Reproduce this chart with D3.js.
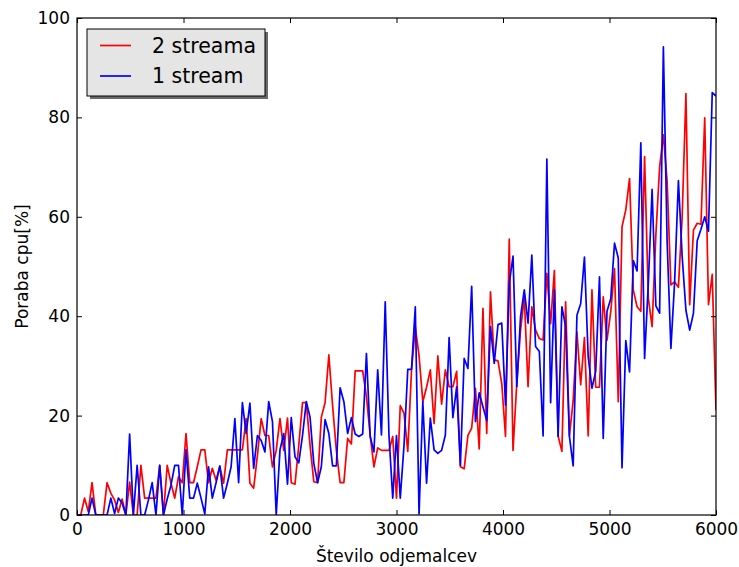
<!DOCTYPE html>
<html>
<head>
<meta charset="utf-8" />
<title>Poraba cpu</title>
<script src="https://d3js.org/d3.v7.min.js"></script>
<style>
body { margin:0; background:white; }
text { font-family: "DejaVu Sans", sans-serif; fill: black; }
.tick line { stroke: black; }
</style>
</head>
<body>
<div id="chart"></div>
<script>

// cpu usage [%], "2 streama" (red) and "1 stream" (blue), one value per sample
var red_values = [
 0, 0, 3.4, 0.7, 6.5, 0, 0, 0, 6.5, 4.4,
 3, 0.5, 3.2, 0, 6.6, 0, 0, 10, 3.4, 3.4,
 3.4, 3.4, 10, 0, 10, 6.4, 3.4, 7.7, 6.5, 16.4,
 6.5, 6.5, 9.7, 13.1, 13.1, 6.5, 9.4, 7, 9.7, 6.4,
 13.1, 13.1, 13.1, 13.1, 13.1, 19.4, 6.4, 5.4, 12, 19.4,
 16, 16, 9.7, 13, 19.4, 13, 19.5, 6.5, 6.2, 14,
 22.6, 22.6, 14, 6.7, 6.5, 19.7, 22.6, 32.2, 22, 13,
 6.5, 6.5, 15.4, 14.3, 29, 29, 29, 23.8, 16, 9.7,
 13.5, 13, 13, 13, 15.8, 3.4, 22, 20.5, 12.8, 29.2,
 37.8, 32, 22.8, 25.7, 29.2, 18.4, 32, 22.3, 29.2, 25.8,
 25.8, 28.9, 9.7, 9.3, 16, 17.5, 25.5, 13.3, 41.6, 16.4,
 44.9, 31.2, 31, 26.5, 15.8, 55.5, 13, 26.5, 37.2, 43.9,
 25.8, 41.9, 37.2, 35.5, 35.2, 48.6, 38.5, 49.2, 15.9, 12.8,
 42.9, 15.9, 23, 36.8, 26.2, 35.7, 15.9, 45.3, 25.7, 25.7,
 43.9, 35.2, 40.9, 49.6, 22.8, 58, 61.4, 67.7, 45.3, 41.9,
 41, 72.1, 43.6, 37.9, 56.3, 70, 76.5, 67.1, 46.3, 46.9,
 45.8, 60, 84.8, 42.3, 57.3, 58.7, 58.5, 79.9, 42.3, 48.4,
 21.1
]

var blue_values = [
 0, 0, 0, 0, 3.4, 0, 0, 0, 0, 3.4,
 0.3, 3.4, 2.4, 0, 16.3, 0, 10, 0, 0, 3,
 6.5, 0, 10, 0, 3.2, 6, 10, 10, 0, 13.1,
 3.4, 3.4, 6.4, 3.4, 0.2, 9.7, 3.4, 6.5, 9.9, 3.4,
 6.4, 9.7, 19.4, 6.5, 22.6, 16.4, 22.5, 9.4, 16, 15,
 12.7, 22.8, 18.8, 0, 13.1, 16.4, 6.2, 19.6, 11.7, 10.5,
 16, 22.8, 19.7, 10.4, 6.5, 9.7, 19.2, 16.4, 9.9, 9.9,
 25.6, 22.8, 16.4, 19.6, 16.3, 15.8, 16.3, 32.5, 15.8, 12.7,
 29.2, 16.1, 42.9, 16, 3.4, 16, 3.4, 14, 29.3, 29.3,
 41.9, 0.2, 22.8, 6.4, 19.5, 13.1, 12.4, 13, 16.1, 35.7,
 19.6, 25.8, 10, 31.5, 29.5, 46, 18.8, 24.6, 21.8, 19,
 37.9, 30.5, 38.3, 38.6, 22.1, 46.6, 52.1, 25.8, 39.9, 45.3,
 38.6, 52.3, 33.9, 32.9, 15.9, 71.6, 22.6, 45.3, 15.8, 41.9,
 37.9, 15.8, 9.9, 40.2, 42.5, 51.9, 31.8, 25.5, 28.9, 47.9,
 15.4, 41, 43.5, 54.7, 51.7, 9.5, 35.1, 28.8, 51.2, 49.1,
 74.9, 31.5, 46.6, 65.5, 42.1, 40.6, 94.2, 55, 33.5, 47,
 67.3, 52, 41.2, 37.2, 40.6, 55.2, 57.5, 60, 57.1, 85,
 84.3
]

var series_names = ["2 streama", "1 stream"]
var series_colors = ["rgb(255,0,0)", "rgb(0,0,255)"]
var x_ticks = [0, 1000, 2000, 3000, 4000, 5000, 6000]
var y_ticks = [0, 20, 40, 60, 80, 100]
var max_clients = 6000

// samples are evenly spaced over 0..max_clients
var clients = red_values.map(function(d, i) { return i * max_clients / (red_values.length - 1) })

var size = {width:739, height:567}
var plot = {top:18, bottom:515, left:77, right:716}

var svg = d3.select("#chart").append("svg")
	.attr("width", size.width)
	.attr("height", size.height)

svg.append("rect")
	.attr("width", size.width)
	.attr("height", size.height)
	.attr("fill", "white")

var xScale = d3.scaleLinear()
	.domain([0, max_clients])
	.range([plot.left, plot.right])

var yScale = d3.scaleLinear()
	.domain([0, 100])
	.range([plot.bottom, plot.top])

svg.append("clipPath")
	.attr("id", "plot_clip")
	.append("rect")
	.attr("x", plot.left)
	.attr("y", plot.top)
	.attr("width", plot.right - plot.left)
	.attr("height", plot.bottom - plot.top)

var valueline = d3.line()
	.x(function(d) { return xScale(d[0]) })
	.y(function(d) { return yScale(d[1]) })
	.curve(d3.curveLinear)

var all_series = [red_values, blue_values]

var lines = svg.append("g").attr("clip-path", "url(#plot_clip)")

all_series.forEach(function(values, s) {
	lines.append("path")
		.datum(values.map(function(v, i) { return [clients[i], v] }))
		.attr("d", valueline)
		.attr("fill", "none")
		.attr("stroke", series_colors[s])
		.attr("stroke-width", 1.7)
		.attr("stroke-linejoin", "round")
})

// axes, ticks pointing inwards on all four sides
function style_axis(g, labels) {
	g.select(".domain").remove()
	g.selectAll(".tick line").attr("stroke-width", 1)
	if (labels) {
		g.selectAll("text").attr("font-size", 17).attr("font-family", "DejaVu Sans").attr("fill", "black")
	}
}

svg.append("g")
	.attr("transform", "translate(0," + plot.bottom + ")")
	.call(d3.axisBottom(xScale).tickValues(x_ticks).tickFormat(d3.format("d")).tickSizeInner(-5).tickSizeOuter(0).tickPadding(8))
	.call(style_axis, true)

svg.append("g")
	.attr("transform", "translate(0," + plot.top + ")")
	.call(d3.axisTop(xScale).tickValues(x_ticks).tickFormat("").tickSizeInner(-5).tickSizeOuter(0))
	.call(style_axis, false)

svg.append("g")
	.attr("transform", "translate(" + plot.left + ",0)")
	.call(d3.axisLeft(yScale).tickValues(y_ticks).tickFormat(d3.format("d")).tickSizeInner(-5).tickSizeOuter(0).tickPadding(7))
	.call(style_axis, true)

svg.append("g")
	.attr("transform", "translate(" + plot.right + ",0)")
	.call(d3.axisRight(yScale).tickValues(y_ticks).tickFormat("").tickSizeInner(-5).tickSizeOuter(0))
	.call(style_axis, false)

svg.append("rect")
	.attr("x", plot.left)
	.attr("y", plot.top)
	.attr("width", plot.right - plot.left)
	.attr("height", plot.bottom - plot.top)
	.attr("fill", "none")
	.attr("stroke", "black")
	.attr("stroke-width", 1.2)

svg.append("text")
	.text("Število odjemalcev")
	.attr("font-size", 17)
	.attr("text-anchor", "middle")
	.attr("x", (plot.left + plot.right) / 2)
	.attr("y", 562)

svg.append("text")
	.text("Poraba cpu[%]")
	.attr("font-size", 17)
	.attr("text-anchor", "middle")
	.attr("transform", "translate(28," + (plot.top + plot.bottom) / 2 + "), rotate(270)")

// legend
var legend = svg.append("g")

legend.append("rect")
	.attr("x", 90)
	.attr("y", 32)
	.attr("width", 178)
	.attr("height", 67)
	.attr("fill", "rgb(80,80,80)")
	.attr("opacity", 0.85)

legend.append("rect")
	.attr("x", 87)
	.attr("y", 29)
	.attr("width", 178)
	.attr("height", 67)
	.attr("fill", "rgb(229,229,229)")
	.attr("stroke", "black")
	.attr("stroke-width", 1)

series_names.forEach(function(name, s) {
	var y = 45.5 + s * 30.5
	legend.append("line")
		.attr("x1", 100)
		.attr("x2", 131)
		.attr("y1", y)
		.attr("y2", y)
		.attr("stroke", series_colors[s])
		.attr("stroke-width", 1.7)
	legend.append("text")
		.text(name)
		.attr("font-size", 20.5)
		.attr("x", 152)
		.attr("y", y)
		.attr("dominant-baseline", "central")
})

</script>
</body>
</html>
